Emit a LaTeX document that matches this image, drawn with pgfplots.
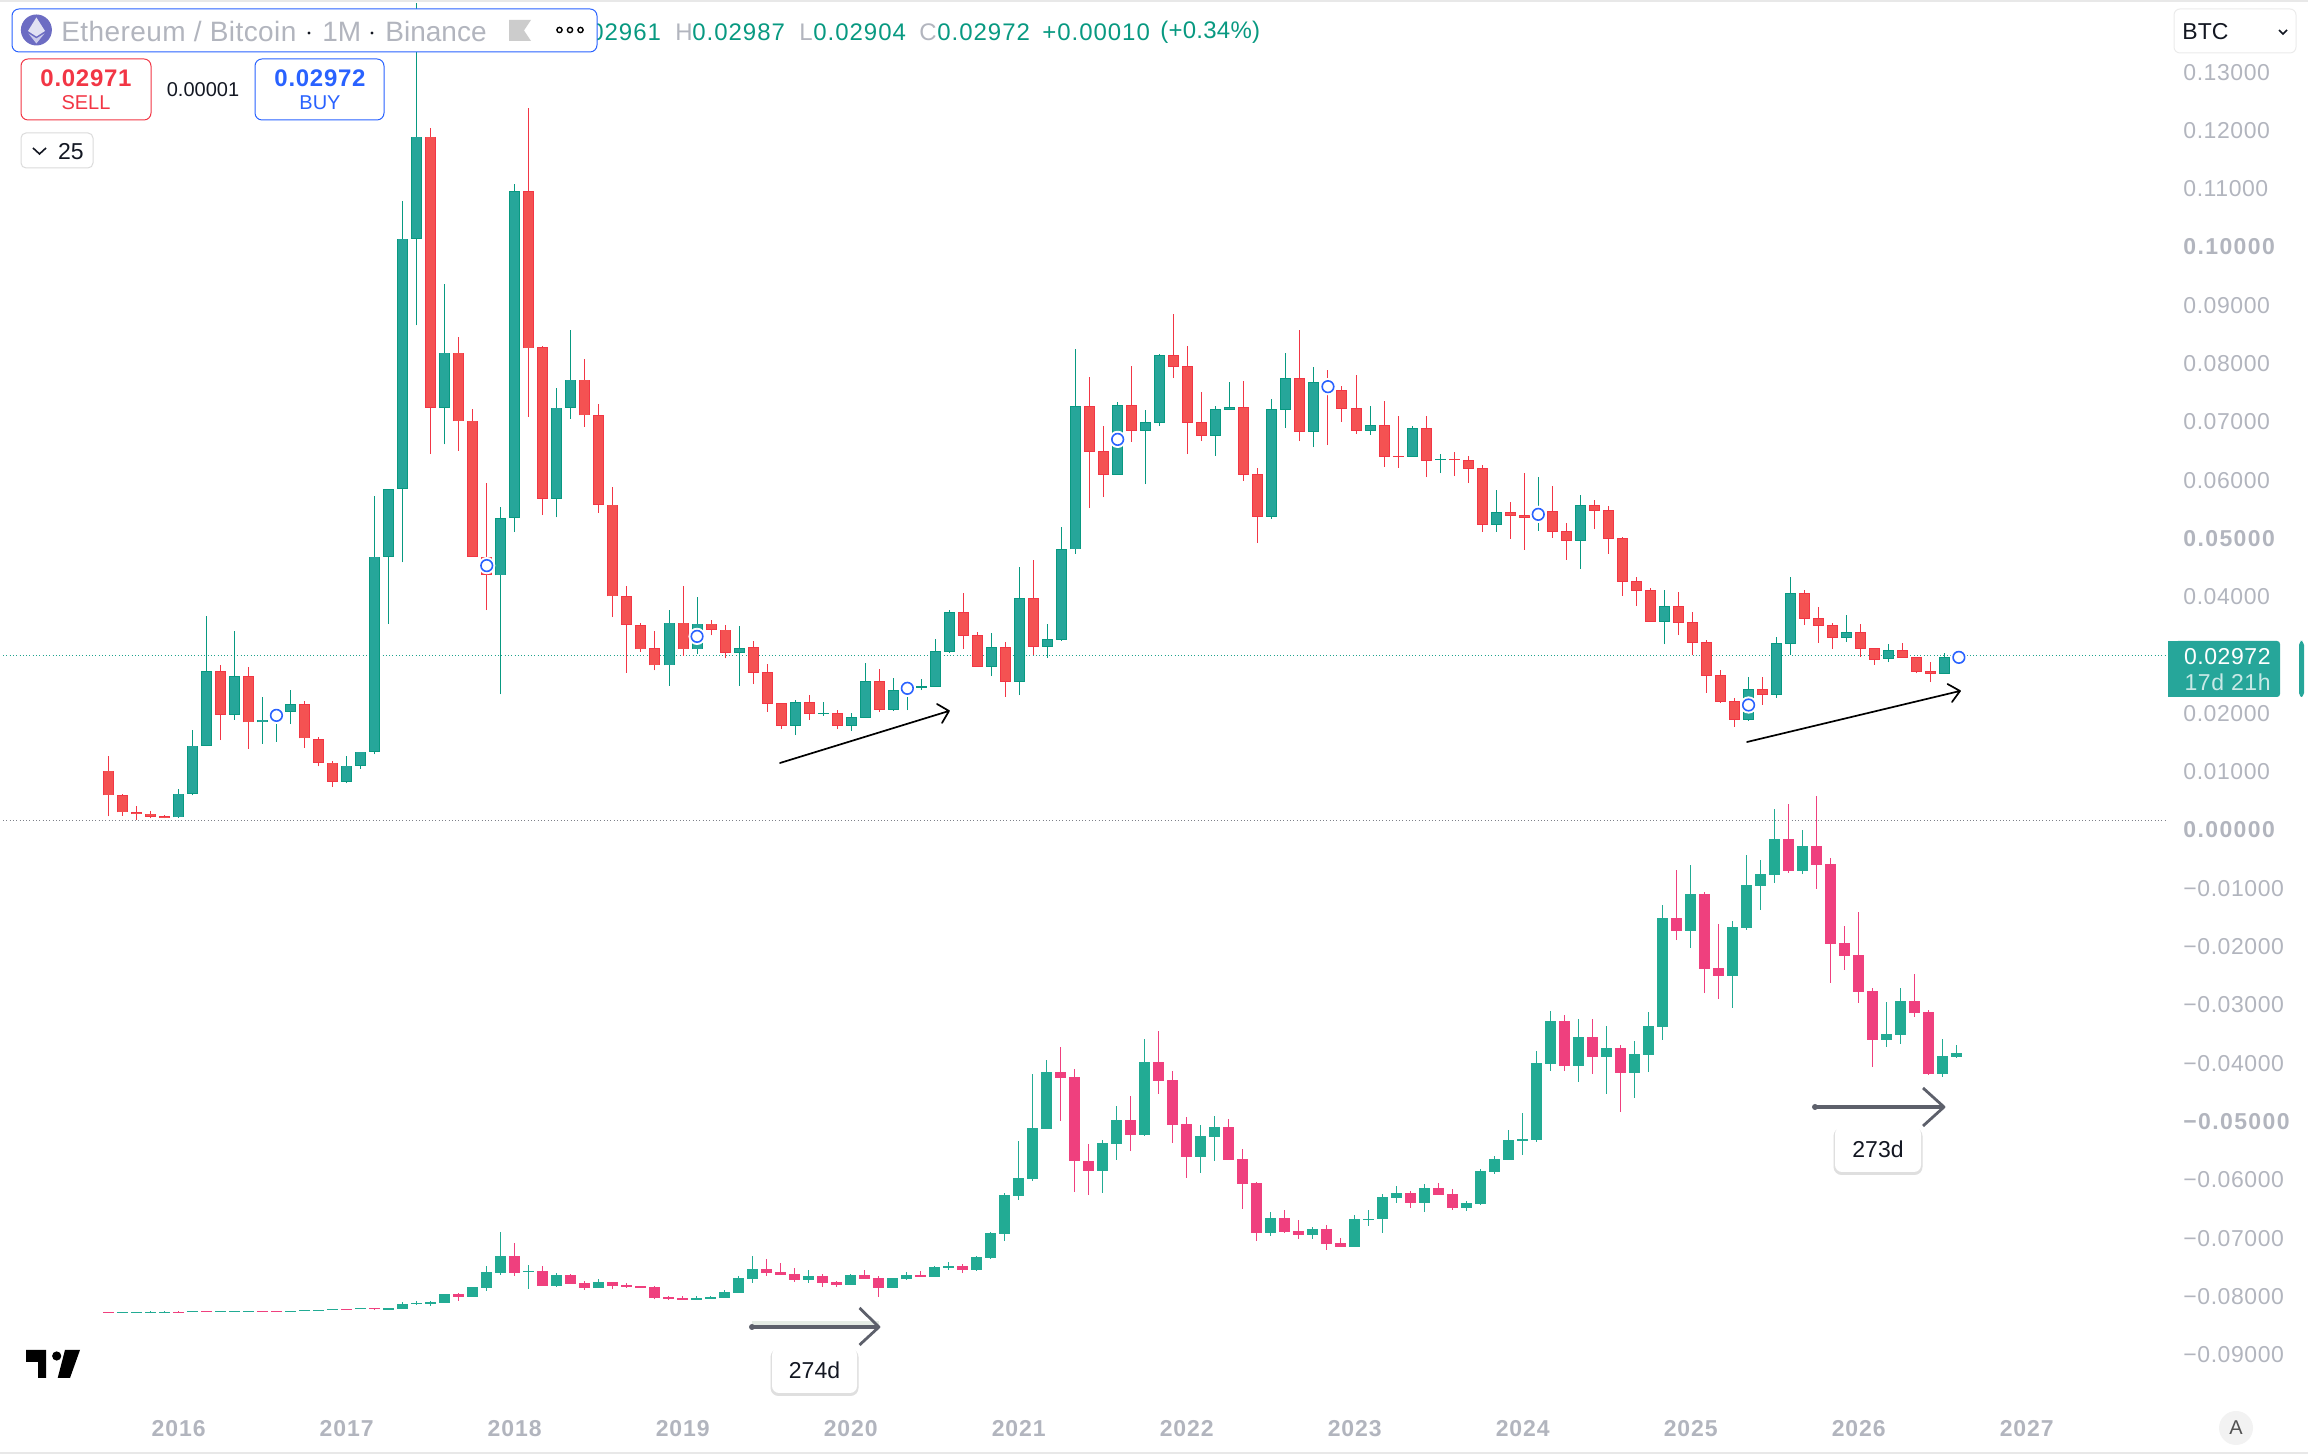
\documentclass[border=0pt]{standalone}
\usepackage{fontspec}
\setmainfont{Liberation Sans}
\usepackage{pgfplots}
\usepackage{pgfplotstable}
\pgfplotsset{compat=1.18}
\definecolor{upG}{HTML}{26A69A}
\definecolor{upGb}{HTML}{089981}
\definecolor{upR}{HTML}{F45252}
\definecolor{upRb}{HTML}{F23645}
\definecolor{loG}{HTML}{22AB94}
\definecolor{loR}{HTML}{EF407E}
\definecolor{tick}{HTML}{B2B5BE}
\definecolor{tvblue}{HTML}{2962FF}
\definecolor{ink}{HTML}{131722}
\definecolor{arrowgray}{HTML}{5D606B}
\pgfplotstableread{
i b t l h
5 .00216 .00621 .00207 .00706
6 .00621 .01449 .00593 .01722
7 .01449 .02729 .01440 .03670
9 .01976 .02644 .01891 .03415
11 .01844 .01891 .01477 .02286
12 .01891 .02032 .01515 .02117
13 .02032 .02164 .01816 .02399
17 .00828 .01101 .00800 .01270
18 .01101 .01345 .01054 .01345
19 .01345 .04686 .01298 .05721
20 .04686 .05852 .03538 .05852
21 .05852 .10143 .04592 .10792
22 .10143 .11893 .08656 .14189
24 .07245 .08186 .06615 .09362
28 .04366 .05354 .02324 .05542
29 .05354 .10961 .05109 .11084
32 .05683 .07245 .05363 .07584
33 .07245 .07725 .07057 .08581
40 .02823 .03557 .02475 .03773
42 .03096 .03538 .03011 .03999
45 .03039 .03124 .02475 .03500
49 .01789 .02190 .01629 .02230
51 .01990 .02007 .01961 .02195
53 .01789 .01932 .01704 .02001
54 .01927 .02550 .01927 .02864
56 .02064 .02395 .02041 .02607
57 .02390 .02447 .02058 .02544
58 .02441 .02464 .02401 .02590
59 .02458 .03064 .02458 .03276
60 .03053 .03733 .03041 .03773
63 .02801 .03133 .02641 .03373
65 .02544 .03973 .02315 .04511
67 .03144 .03270 .02956 .03533
68 .03264 .04814 .03247 .05197
69 .04814 .07266 .04734 .08250
72 .06094 .07283 .06094 .07341
74 .06849 .06992 .05934 .07203
75 .06986 .08141 .06929 .08164
79 .06763 .07215 .06415 .07272
80 .07209 .07249 .07209 .07684
83 .05374 .07215 .05340 .07392
84 .07209 .07747 .06895 .08181
86 .06832 .07678 .06569 .07941
90 .06849 .06940 .06780 .07272
93 .06403 .06889 .06403 .06929
95 .06346 .06363 .06123 .06449
99 .05237 .05448 .05117 .05831
102 .05357 .05465 .05134 .06049
105 .04962 .05568 .04482 .05746
111 .03573 .03836 .03190 .04116
117 .01892 .02413 .01875 .02624
119 .02321 .03202 .02264 .03310
120 .03196 .04059 .03001 .04339
124 .03299 .03390 .03224 .03687
127 .02939 .03081 .02881 .03190
131 .02681 .02961 .02681 .03030
132 .02961 .02972 .02904 .02987
}\UG
\pgfplotstableread{
i b t l h
0 .00593 .01016 .00235 .01270
1 .00301 .00593 .00245 .00612
2 .00273 .00310 .00179 .00405
3 .00226 .00282 .00198 .00329
4 .00207 .00235 .00198 .00254
8 .01976 .02729 .01543 .02832
10 .01844 .02644 .01393 .02794
14 .01571 .02164 .01411 .02211
15 .01157 .01562 .01091 .01600
16 .00828 .01157 .00743 .01176
23 .07245 .11893 .06445 .12044
25 .07010 .08186 .06502 .08449
26 .04686 .07019 .04686 .07226
27 .04375 .04686 .03773 .05946
30 .08261 .10961 .07085 .12382
31 .05683 .08280 .05401 .08299
34 .07113 .07725 .06916 .08082
35 .05580 .07113 .05438 .07311
36 .04008 .05580 .03651 .05881
37 .03519 .04008 .02700 .04187
38 .03096 .03519 .03058 .03547
39 .02823 .03114 .02738 .03415
41 .03096 .03557 .02992 .04187
43 .03434 .03538 .03340 .03604
44 .03039 .03434 .02945 .03510
46 .02698 .03133 .02504 .03242
47 .02167 .02704 .02024 .02847
48 .01789 .02172 .01732 .02172
50 .01995 .02190 .01887 .02315
52 .01789 .02001 .01732 .02058
55 .02064 .02550 .02024 .02761
61 .03333 .03733 .03104 .04070
62 .02801 .03339 .02801 .03396
64 .02544 .03133 .02287 .03219
66 .03144 .03973 .03001 .04631
70 .06489 .07266 .05523 .07769
71 .06094 .06495 .05711 .06935
73 .06849 .07283 .06655 .07958
76 .07947 .08141 .07752 .08850
77 .06986 .07952 .06449 .08301
78 .06763 .06992 .06672 .07512
81 .06094 .07249 .05986 .07701
82 .05374 .06100 .04922 .06209
85 .06832 .07747 .06672 .08576
87 .07541 .07678 .06603 .07889
88 .07226 .07541 .06998 .07615
89 .06849 .07232 .06798 .07804
91 .06403 .06940 .06232 .07358
92 .06397 .06415 .06209 .07101
94 .06334 .06889 .06054 .07101
96 .06346 .06363 .06071 .06483
97 .06197 .06340 .05951 .06415
98 .05237 .06203 .05117 .06260
100 .05391 .05448 .04997 .05626
101 .05357 .05403 .04808 .06117
103 .05117 .05465 .05014 .05900
104 .04962 .05122 .04631 .05260
106 .05477 .05568 .05162 .05660
107 .04997 .05483 .04734 .05557
108 .04259 .05002 .04019 .05025
109 .04105 .04265 .03842 .04339
110 .03573 .04110 .03573 .04145
112 .03556 .03836 .03344 .04082
113 .03213 .03562 .02996 .03739
114 .02647 .03219 .02355 .03259
115 .02195 .02653 .02184 .02744
116 .01892 .02207 .01772 .02258
118 .02321 .02413 .02144 .02624
121 .03625 .04059 .03516 .04116
122 .03505 .03630 .03213 .03825
123 .03299 .03510 .03104 .03545
125 .03110 .03390 .02973 .03533
126 .02921 .03116 .02830 .03116
128 .02956 .03081 .02956 .03207
129 .02716 .02961 .02687 .02961
130 .02681 .02721 .02538 .02887
}\UR
\pgfplotstableread{
i p
12 .01966
27 .04535
42 .03321
57 .02430
72 .06700
87 .07604
102 .05414
117 .02144
132 .02961
}\Rings
\pgfplotstableread{
i b t l h
1 -.08278 -.08267 -.08278 -.08267
2 -.08278 -.08267 -.08278 -.08267
3 -.08278 -.08261 -.08284 -.08255
4 -.08278 -.08261 -.08284 -.08250
6 -.08267 -.08255 -.08267 -.08255
8 -.08267 -.08255 -.08267 -.08255
9 -.08267 -.08255 -.08267 -.08255
10 -.08267 -.08255 -.08267 -.08250
13 -.08267 -.08255 -.08267 -.08255
14 -.08250 -.08238 -.08250 -.08238
15 -.08250 -.08238 -.08250 -.08238
16 -.08232 -.08221 -.08232 -.08221
18 -.08215 -.08204 -.08215 -.08204
20 -.08232 -.08204 -.08232 -.08204
21 -.08215 -.08130 -.08215 -.08101
22 -.08130 -.08112 -.08141 -.08084
23 -.08124 -.08101 -.08164 -.08078
24 -.08112 -.07964 -.08112 -.07964
26 -.08010 -.07844 -.08010 -.07844
27 -.07855 -.07586 -.07907 -.07484
28 -.07598 -.07312 -.07626 -.06895
30 -.07581 -.07564 -.07872 -.07461
32 -.07821 -.07638 -.07838 -.07598
35 -.07855 -.07758 -.07855 -.07707
42 -.08061 -.08027 -.08061 -.07992
43 -.08044 -.08010 -.08044 -.07992
44 -.08027 -.07924 -.08027 -.07889
45 -.07941 -.07689 -.07941 -.07655
46 -.07701 -.07535 -.07769 -.07312
50 -.07718 -.07649 -.07769 -.07546
53 -.07804 -.07632 -.07804 -.07615
56 -.07855 -.07684 -.07855 -.07684
57 -.07707 -.07632 -.07718 -.07581
59 -.07667 -.07495 -.07667 -.07478
60 -.07512 -.07478 -.07546 -.07409
62 -.07546 -.07323 -.07564 -.07306
63 -.07341 -.06912 -.07358 -.06895
64 -.06929 -.06260 -.07049 -.06232
65 -.06277 -.05969 -.06346 -.05334
66 -.05986 -.05111 -.06020 -.04185
67 -.05128 -.04151 -.05128 -.03945
71 -.05849 -.05368 -.06226 -.05317
72 -.05385 -.04974 -.05660 -.04734
74 -.05231 -.03979 -.05248 -.03585
78 -.05608 -.05248 -.05883 -.05059
79 -.05265 -.05094 -.05677 -.04905
83 -.06912 -.06655 -.06963 -.06552
86 -.06946 -.06843 -.07015 -.06809
89 -.07152 -.06672 -.07152 -.06603
90 -.06689 -.06672 -.06792 -.06517
91 -.06672 -.06294 -.06912 -.06243
92 -.06312 -.06226 -.06397 -.06106
94 -.06397 -.06140 -.06552 -.06071
97 -.06483 -.06397 -.06535 -.06363
98 -.06414 -.05849 -.06432 -.05814
99 -.05866 -.05643 -.05900 -.05591
100 -.05660 -.05317 -.05660 -.05145
101 -.05334 -.05300 -.05574 -.04854
102 -.05317 -.03996 -.05351 -.03790
103 -.04013 -.03276 -.04133 -.03104
105 -.04048 -.03550 -.04322 -.03242
107 -.03893 -.03739 -.04528 -.03362
109 -.04168 -.03842 -.04596 -.03619
110 -.03859 -.03362 -.04151 -.03121
111 -.03379 -.01509 -.03602 -.01286
113 -.01732 -.01098 -.02024 -.00600
116 -.02504 -.01664 -.03053 -.01561
117 -.01681 -.00943 -.01715 -.00429
118 -.00960 -.00755 -.01372 -.00515
119 -.00772 -.00154 -.00909 .00360
121 -.00703 -.00274 -.00755 0
127 -.03602 -.03499 -.03722 -.02950
128 -.03516 -.02933 -.03670 -.02710
131 -.04185 -.03876 -.04236 -.03585
132 -.03893 -.03825 -.03910 -.03687
}\LG
\pgfplotstableread{
i b t l h
0 -.08278 -.08267 -.08278 -.08267
5 -.08278 -.08261 -.08284 -.08255
7 -.08267 -.08255 -.08267 -.08255
11 -.08267 -.08255 -.08267 -.08244
12 -.08267 -.08255 -.08267 -.08255
17 -.08232 -.08221 -.08232 -.08221
19 -.08215 -.08204 -.08232 -.08198
25 -.08010 -.07964 -.08078 -.07947
29 -.07598 -.07312 -.07649 -.07083
31 -.07821 -.07569 -.07821 -.07484
33 -.07787 -.07638 -.07787 -.07615
34 -.07855 -.07775 -.07889 -.07735
36 -.07821 -.07758 -.07872 -.07758
37 -.07838 -.07804 -.07855 -.07775
38 -.07849 -.07821 -.07855 -.07821
39 -.08027 -.07844 -.08050 -.07821
40 -.08044 -.08010 -.08061 -.07992
41 -.08061 -.08027 -.08061 -.07992
47 -.07598 -.07535 -.07649 -.07358
48 -.07632 -.07581 -.07632 -.07426
49 -.07718 -.07615 -.07752 -.07512
51 -.07769 -.07649 -.07838 -.07621
52 -.07804 -.07752 -.07838 -.07735
54 -.07701 -.07632 -.07701 -.07546
55 -.07855 -.07684 -.08010 -.07649
58 -.07667 -.07632 -.07667 -.07564
61 -.07546 -.07478 -.07598 -.07444
68 -.04253 -.04151 -.04991 -.03722
69 -.05677 -.04236 -.06209 -.04099
70 -.05849 -.05677 -.06260 -.05385
73 -.05231 -.04974 -.05506 -.04562
75 -.04305 -.03979 -.04528 -.03447
76 -.05059 -.04288 -.05368 -.04133
77 -.05608 -.05042 -.05969 -.04922
80 -.05660 -.05094 -.05660 -.04957
81 -.06071 -.05643 -.06500 -.05471
82 -.06912 -.06054 -.07049 -.06037
84 -.06895 -.06655 -.06912 -.06517
85 -.06946 -.06878 -.07015 -.06689
87 -.07101 -.06843 -.07203 -.06775
88 -.07152 -.07083 -.07152 -.06998
93 -.06397 -.06226 -.06483 -.06191
95 -.06260 -.06140 -.06260 -.06054
96 -.06483 -.06243 -.06517 -.06157
104 -.04048 -.03276 -.04133 -.03173
106 -.03893 -.03550 -.04185 -.03242
108 -.04168 -.03739 -.04837 -.03687
112 -.01732 -.01509 -.01887 -.00686
114 -.02384 -.01098 -.02796 -.01063
115 -.02504 -.02367 -.02899 -.01612
120 -.00703 -.00154 -.00737 .00446
122 -.00600 -.00274 -.01012 .00583
123 -.01955 -.00583 -.02624 -.00480
124 -.02161 -.01938 -.02401 -.01646
125 -.02778 -.02144 -.02967 -.01406
126 -.03602 -.02761 -.04065 -.02710
129 -.03139 -.02933 -.03207 -.02470
130 -.04185 -.03121 -.04202 -.03087
}\LR
\pgfplotsset{
  bar/.style 2 args={draw=none,no markers,forget plot,
    error bars/y dir=plus,error bars/y explicit,error bars/error mark=none,
    error bars/error bar style={draw=#1,line width=#2,solid}},
  base/.style={at={(0,0)},anchor=south west,scale only axis,width=1154pt,height=727pt,
    ymin=-0.10703,ymax=0.14237,axis line style={draw=none},major tick length=0pt,
    minor tick num=0},
}
\newcommand\fz[1]{\fontsize{#1}{#1}\selectfont}
\newcommand\ls[1]{\addfontfeature{LetterSpace=#1}}
\newcommand\lbl[4]{\node[inner sep=0,anchor=#1,text=#2] at #3 {#4};}
\newcommand\boldtick[1]{{\bfseries\ls{6}#1}}
\begin{document}
\begin{tikzpicture}
\path[use as bounding box] (0,0) rectangle (1154pt,727pt);
\begin{scope}[x=0.5pt,y=-0.5pt,yshift=727pt]
  \draw[upGb,opacity=.9,line width=.5pt,dash pattern=on .5pt off 1.15pt] (3,656) -- (2167,656);
  \draw[arrowgray,opacity=.8,line width=.5pt,dash pattern=on .5pt off 1.15pt] (3,820.5) -- (2166,820.5);
\end{scope}
% ---- lower pane candles and the axis text
\begin{axis}[base,xmin=-7.764,xmax=157.09,
  xtick={5,17,29,41,53,65,77,89,101,113,125,137},
  xticklabels={2016,2017,2018,2019,2020,2021,2022,2023,2024,2025,2026,2027},
  xticklabel style={anchor=center,yshift=12.5pt,inner sep=0,text=tick,font=\fz{11.5}\bfseries\ls{4}},
  ytick={0.13,0.12,0.11,0.10,0.09,0.08,0.07,0.06,0.05,0.04,0.02,0.01,0,-0.01,-0.02,-0.03,-0.04,-0.05,-0.06,-0.07,-0.08,-0.09},
  yticklabels={0.13000,0.12000,0.11000,\boldtick{0.10000},0.09000,0.08000,0.07000,0.06000,\boldtick{0.05000},0.04000,0.02000,0.01000,\boldtick{0.00000},−0.01000,−0.02000,−0.03000,−0.04000,\boldtick{−0.05000},−0.06000,−0.07000,−0.08000,−0.09000},
  yticklabel pos=right,
  yticklabel style={anchor=west,xshift=-62.5pt,inner sep=0,text=tick,font=\fz{11.5}\ls{2.5}},
]
\addplot[bar={loG}{.65pt}] table[x=i,y=l,y error plus expr=\thisrow{h}-\thisrow{l}] {\LG};
\addplot[bar={loR}{.65pt}] table[x=i,y=l,y error plus expr=\thisrow{h}-\thisrow{l}] {\LR};
\addplot[bar={loG}{5.5pt}] table[x=i,y=b,y error plus expr=\thisrow{t}-\thisrow{b}] {\LG};
\addplot[bar={loR}{5.5pt}] table[x=i,y=b,y error plus expr=\thisrow{t}-\thisrow{b}] {\LR};
\end{axis}
% ---- upper pane candles
\begin{axis}[base,hide axis,xmin=-7.718,xmax=156.9]
\addplot[bar={upGb}{.5pt}] table[x=i,y=l,y error plus expr=\thisrow{h}-\thisrow{l}] {\UG};
\addplot[bar={upRb}{.5pt}] table[x=i,y=l,y error plus expr=\thisrow{h}-\thisrow{l}] {\UR};
\addplot[bar={upGb}{5.5pt}] table[x=i,y=b,y error plus expr=\thisrow{t}-\thisrow{b}] {\UG};
\addplot[bar={upRb}{5.5pt}] table[x=i,y=b,y error plus expr=\thisrow{t}-\thisrow{b}] {\UR};
\addplot[bar={upG}{4.5pt}] table[x=i,y expr=\thisrow{b}+0.00012,y error plus expr={max(\thisrow{t}-\thisrow{b}-0.00024,0)}] {\UG};
\addplot[bar={upR}{4.5pt}] table[x=i,y expr=\thisrow{b}+0.00012,y error plus expr={max(\thisrow{t}-\thisrow{b}-0.00024,0)}] {\UR};
\addplot[only marks,forget plot,mark=*,mark size=4.1pt,mark options={draw=white,fill=white}] table[x=i,y=p] {\Rings};
\addplot[only marks,forget plot,mark=*,mark size=2.9pt,mark options={draw=tvblue,fill=white,line width=.8pt}] table[x=i,y=p] {\Rings};
\end{axis}
\begin{scope}[x=0.5pt,y=-0.5pt,yshift=727pt]
  % frame lines
  \fill[black!9] (0,0) rectangle (2308,2.2);
  \fill[black!9] (0,1451.8) rectangle (2308,1454);
  % trend arrows
  \draw[black,line width=.85pt,line join=round,line cap=round] (780,763) -- (949,711) (937,704) -- (949,711) -- (942,723);
  \draw[black,line width=.85pt,line join=round,line cap=round] (1747,742) -- (1960,691) (1947.5,684) -- (1960,691) -- (1952,702);
  % range arrows
  \fill[green!25!black!10] (752,1321) rectangle (879,1325);
  \draw[arrowgray,line width=1.6pt] (752,1327) -- (879,1327);
  \draw[arrowgray,line width=1.4pt,line join=round] (859.5,1308) -- (879,1327) -- (859.5,1345);
  \fill[arrowgray] (752,1327) circle (3);
  \draw[arrowgray,line width=1.6pt] (1815,1107) -- (1944,1107);
  \draw[arrowgray,line width=1.4pt,line join=round] (1923,1088) -- (1944,1107) -- (1923,1126);
  \fill[arrowgray] (1815,1107) circle (3);
  \foreach \a/\b/\c/\d/\txt in {772/1348/857/1393/274d,1835/1127/1921/1172/273d}{
    \foreach \o in {.04,.04,.05}{\fill[black,opacity=\o,rounded corners=4pt] (\a-1.5,\b+1) rectangle (\c+1.5,\d+3);}
    \fill[white,rounded corners=3.5pt] (\a,\b) rectangle (\c,\d);
    \node[inner sep=0,text=ink,font=\fz{11.5}] at ({(\a+\c)/2},{(\b+\d)/2}) {\txt};
  }
  % OHLC strip, partly under the legend box
  \lbl{west}{tick}{(550,32)}{\fz{12}O}
  \lbl{west}{upGb}{(568,32)}{\fz{12}\ls{4}0.02961}
  \lbl{west}{tick}{(675,32)}{\fz{12}H}
  \lbl{west}{upGb}{(692,32)}{\fz{12}\ls{4}0.02987}
  \lbl{west}{tick}{(799,32)}{\fz{12}L}
  \lbl{west}{upGb}{(813,32)}{\fz{12}\ls{4}0.02904}
  \lbl{west}{tick}{(919,32)}{\fz{12}C}
  \lbl{west}{upGb}{(937,32)}{\fz{12}\ls{4}0.02972}
  \lbl{west}{upGb}{(1042,32)}{\fz{12}\ls{4}+0.00010}
  \lbl{west}{upGb}{(1160,32)}{\fz{12}\ls{1}(+0.34\%)}
  % legend box
  \draw[tvblue,fill=white,line width=.5pt,rounded corners=3.5pt] (12,9) rectangle (597,52);
  \fill[black!20!blue!50!white!85!black] (36.4,30) circle (15.5);
  \fill[white,opacity=.8] (36.4,17.5) -- (45,31) -- (36.4,36.5) -- (28,31) -- cycle;
  \fill[white,opacity=.65] (36.4,38.5) -- (44.5,33.5) -- (36.4,43.5) -- (28.5,33.5) -- cycle;
  \lbl{west}{tick}{(61,32)}{\fz{14}\ls{1.5}Ethereum / Bitcoin}
  \fill[ink] (309,33) circle (1.6);
  \lbl{west}{tick}{(322,32)}{\fz{14}1M}
  \fill[ink] (372,33) circle (1.6);
  \lbl{west}{tick}{(385,32)}{\fz{14}Binance}
  \fill[black!20] (509,20) -- (531,20) -- (524,30.5) -- (531,41) -- (509,41) -- cycle;
  \foreach \x in {559.5,570,580.5}{\draw[black,line width=.7pt] (\x,30) circle (2.6);}
  % sell / buy
  \draw[upRb,fill=white,line width=.5pt,rounded corners=3.5pt] (21,59) rectangle (151,120);
  \lbl{center}{upRb}{(86,78)}{\fz{12}\bfseries\ls{3}0.02971}
  \lbl{center}{upRb}{(86,103)}{\fz{10}SELL}
  \draw[tvblue,fill=white,line width=.5pt,rounded corners=3.5pt] (255,59) rectangle (384,120);
  \lbl{center}{tvblue}{(320,78)}{\fz{12}\bfseries\ls{3}0.02972}
  \lbl{center}{tvblue}{(320,103)}{\fz{10}BUY}
  \lbl{center}{ink}{(203,90)}{\fz{10}0.00001}
  % quantity
  \draw[black!14,fill=white,line width=.5pt,rounded corners=2.5pt] (21,133) rectangle (93,168);
  \draw[ink,line width=.8pt] (33,148) -- (39.5,154) -- (46,148);
  \lbl{center}{ink}{(71,152)}{\fz{11.5}25}
  % currency selector
  \draw[black!8,fill=white,line width=.5pt,rounded corners=3pt] (2174,9) rectangle (2296,53);
  \lbl{west}{ink}{(2182,32)}{\fz{11.5}BTC}
  \draw[ink,line width=.8pt] (2279,30) -- (2283,34) -- (2287,30);
  % price tag
  \fill[upG,rounded corners=1.5pt] (2175,641) rectangle (2280,697);
  \fill[upG] (2168,641) rectangle (2180,697);
  \lbl{east}{white}{(2271,657)}{\fz{11.5}\ls{2.5}0.02972}
  \lbl{east}{white!75!upG}{(2271,682)}{\fz{11.5}\ls{2.5}17d 21h}
  \fill[upG,rounded corners=2pt] (2299,641) rectangle (2304,697);
  % logo and auto button
  \fill[black] (26,1350) -- (46,1350) -- (46,1378) -- (38,1378) -- (38,1362) -- (26,1362) -- cycle;
  \fill[black] (56.7,1356) circle (4.6);
  \fill[black] (65,1350) -- (80,1350) -- (70,1378) -- (57.7,1378) -- cycle;
  \fill[black!5] (2236,1428) circle (17);
  \lbl{center}{black!68}{(2236,1428)}{\fz{10}A}
\end{scope}
\end{tikzpicture}
\end{document}
